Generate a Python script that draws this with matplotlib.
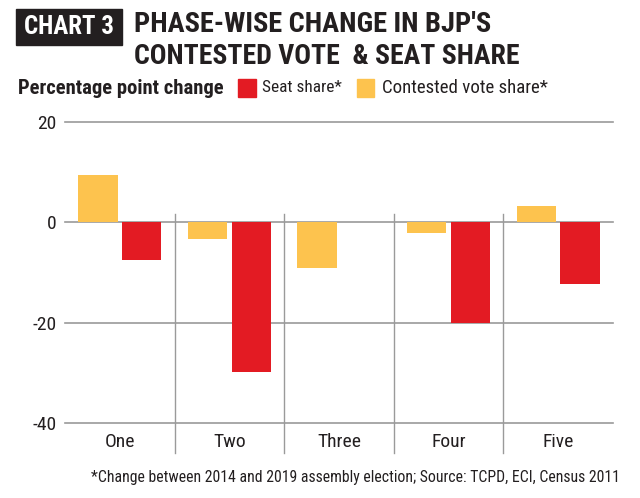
import matplotlib
matplotlib.use("Agg")
import matplotlib.pyplot as plt
from matplotlib import font_manager
from matplotlib.patches import Rectangle
import numpy as np

phases = ["One", "Two", "Three", "Four", "Five"]
vote_share = [9.3, -3.4, -9.1, -2.1, 3.3]
seat_share = [-7.6, -29.9, 0.0, -20.0, -12.4]
yticks = [20, 0, -20, -40]
ytick_labels = ["20", "0", "-20", "-40"]

RED = "#E31B23"
YEL = "#FDC34E"
TXT = "#231F20"
GRID = "#9A9A9A"

names = {f.name for f in font_manager.fontManager.ttflist}
cond = [f for f in font_manager.fontManager.ttflist
        if "condensed" in str(f.stretch).lower() or "narrow" in f.name.lower()
        or "condensed" in f.name.lower()]
FAM = None
for cand in ["Roboto Condensed", "Liberation Sans Narrow", "Open Sans Condensed"]:
    if cand in names:
        FAM = cand
        break
STRETCH = "normal"
if FAM is None:
    if any(f.name == "DejaVu Sans" and "condensed" in str(f.stretch).lower()
           for f in font_manager.fontManager.ttflist):
        FAM = "DejaVu Sans"
        STRETCH = "condensed"
    else:
        FAM = "DejaVu Sans"
FONT = [FAM, "DejaVu Sans"]

fig = plt.figure(figsize=(6.4, 4.98), dpi=100)
W, H = 640, 498
renderer = fig.canvas.get_renderer()


def ftext(xpx, ypx, s, size, width_px=None, ha="left", **kw):
    t = fig.text(xpx / W, 1 - ypx / H, s, family=FONT, fontstretch=STRETCH,
                 fontsize=size, va="center", ha=ha, **kw)
    if width_px is not None:
        bb = t.get_window_extent(renderer)
        if bb.width > 0:
            t.set_fontsize(size * width_px / bb.width)
    return t


ax = fig.add_axes([65 / W, 1 - 423 / H, 548 / W, (423 - 121.7) / H])

x = np.arange(len(phases))
w = 0.36
ax.bar(x - 0.2, vote_share, width=w, color=YEL, zorder=3)
ax.bar(x + 0.2, seat_share, width=w, color=RED, zorder=3)

ax.set_xlim(-0.5, len(phases) - 0.5)
ax.set_ylim(-40, 20)
for s in ax.spines.values():
    s.set_visible(False)
for yv in yticks:
    ax.axhline(yv, color=GRID, lw=1.2, zorder=2, clip_on=False)
for xs in x[:-1] + 0.5:
    ax.plot([xs, xs], [1.6, -46], color=GRID, lw=1.0, zorder=2, clip_on=False)

ax.set_yticks(yticks)
ax.set_yticklabels(ytick_labels, family=FONT, fontstretch=STRETCH, fontsize=14, color=TXT)
ax.set_xticks(x)
ax.set_xticklabels(phases, family=FONT, fontstretch=STRETCH, fontsize=14, color=TXT)
ax.tick_params(length=0, axis="y", pad=6)
ax.tick_params(length=0, axis="x", pad=7)

# Title
fig.add_artist(Rectangle((16 / W, 1 - 45 / H), 106 / W, 36 / H,
                         transform=fig.transFigure, color=TXT))
ftext(69, 27, "CHART 3", 18, width_px=90, ha="center", color="white",
      fontweight="bold")
ftext(134, 25, "PHASE-WISE CHANGE IN BJP'S", 26, width_px=358,
      fontweight="bold", color=TXT)
ftext(134, 56, "CONTESTED VOTE  & SEAT SHARE", 26, width_px=386,
      fontweight="bold", color=TXT)

# Legend line
ftext(18, 88, "Percentage point change", 14, width_px=207, fontweight="bold",
      color=TXT)
fig.add_artist(Rectangle((238 / W, 1 - 97 / H), 18 / W, 18 / H,
                         transform=fig.transFigure, color=RED))
ftext(262, 88, "Seat share*", 14, width_px=80, color=TXT)
fig.add_artist(Rectangle((357 / W, 1 - 97 / H), 17 / W, 18 / H,
                         transform=fig.transFigure, color=YEL))
ftext(382, 88, "Contested vote share*", 14, width_px=167, color=TXT)

ftext(620, 477,
      "*Change between 2014 and 2019 assembly election; Source: TCPD, ECI, Census 2011",
      12, width_px=528, ha="right", color=TXT)

fig.savefig("out.png", dpi=100, facecolor="white")
